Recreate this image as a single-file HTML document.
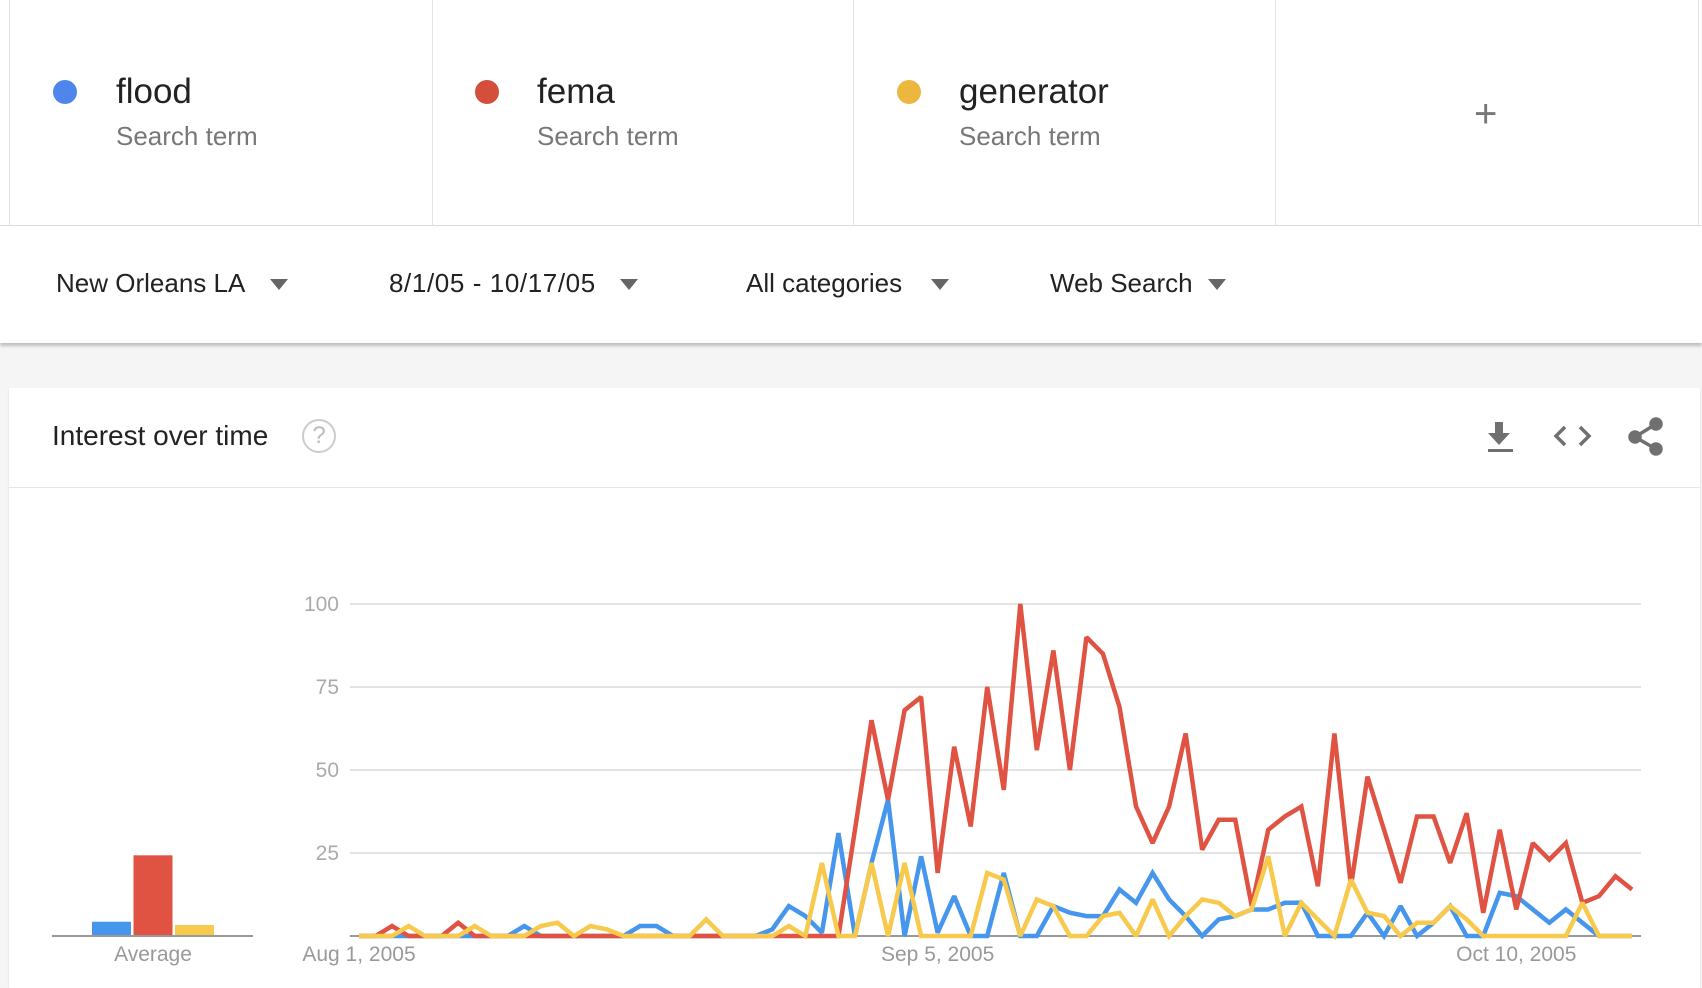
<!DOCTYPE html>
<html><head><meta charset="utf-8">
<style>
*{margin:0;padding:0;box-sizing:border-box}
body{width:1702px;height:974px;overflow:hidden;background:#f5f5f5;font-family:"Liberation Sans",sans-serif;position:relative}
.abs{position:absolute}
.hdr{left:0;top:0;width:1702px;height:226px;background:#fff;border-bottom:1px solid #ddd}
.card{top:0;height:226px;border-left:1px solid #e3e3e3}
.dot{width:24px;height:24px;border-radius:50%}
.term{font-size:35px;color:#222}
.sub{font-size:26px;color:#777}
.filters{left:0;top:226px;width:1702px;height:117px;background:#fff;box-shadow:0 3px 3px rgba(0,0,0,0.22)}
.flt{font-size:26px;color:#222;top:268px}
.arr{top:279px;width:0;height:0;border-left:9px solid transparent;border-right:9px solid transparent;border-top:11px solid #666}
.panel{left:9px;top:388px;width:1691px;height:600px;background:#fff;box-shadow:0 1px 2px rgba(0,0,0,0.1)}
</style></head><body>
<div class="abs hdr"></div>
<div class="abs card" style="left:9px;width:423px"></div>
<div class="abs card" style="left:432px;width:421px"></div>
<div class="abs card" style="left:853px;width:422px"></div>
<div class="abs card" style="left:1275px;width:424px;border-right:1px solid #e3e3e3"></div>

<div class="abs dot" style="left:53px;top:80px;background:#4f86ec"></div>
<div class="abs term" style="left:116px;top:72px">flood</div>
<div class="abs sub" style="left:116px;top:121px">Search term</div>
<div class="abs dot" style="left:475px;top:80px;background:#d34f3c"></div>
<div class="abs term" style="left:537px;top:72px">fema</div>
<div class="abs sub" style="left:537px;top:121px">Search term</div>
<div class="abs dot" style="left:897px;top:80px;background:#ebb73e"></div>
<div class="abs term" style="left:959px;top:72px">generator</div>
<div class="abs sub" style="left:959px;top:121px">Search term</div>
<div class="abs" style="left:1474px;top:92px;font-size:40px;color:#777;font-weight:300">+</div>

<div class="abs filters"></div>
<div class="abs flt" style="left:56px">New Orleans LA</div>
<div class="abs arr" style="left:270px"></div>
<div class="abs flt" style="left:389px;letter-spacing:0.6px">8/1/05 - 10/17/05</div>
<div class="abs arr" style="left:620px"></div>
<div class="abs flt" style="left:746px">All categories</div>
<div class="abs arr" style="left:931px"></div>
<div class="abs flt" style="left:1050px">Web Search</div>
<div class="abs arr" style="left:1208px"></div>

<div class="abs panel"></div>
<div class="abs" style="left:52px;top:420px;font-size:28px;color:#222">Interest over time</div>
<div class="abs" style="left:302px;top:419px;width:34px;height:34px;border:2px solid #ccc;border-radius:50%;color:#bbb;font-size:24px;text-align:center;line-height:30px">?</div>
<div class="abs" style="left:9px;top:487px;width:1691px;height:1px;background:#e5e5e5"></div>
<svg class="abs" style="left:1480px;top:415px" width="200" height="45">
 <g fill="#707070"><rect x="15" y="7" width="8" height="12"/><polygon points="8,18 30,18 19,30"/><rect x="8" y="34" width="25" height="3"/></g>
 <g fill="none" stroke="#707070" stroke-width="3.5"><polyline points="85,12 76,21 85,30"/><polyline points="100,12 109,21 100,30"/></g>
 <g fill="#707070" stroke="#707070" stroke-width="3.5"><circle cx="176" cy="9" r="5"/><circle cx="155" cy="22" r="5"/><circle cx="176" cy="34" r="5"/><line x1="176" y1="9" x2="155" y2="22"/><line x1="155" y1="22" x2="176" y2="34"/></g>
</svg>

<svg id="chart" class="abs" style="left:0;top:0" width="1702" height="974"></svg>
<script>
const flood=[0,0,0,0,0,0,0,0,0,0,3,0,0,0,0,0,0,3,3,0,0,0,0,0,0,2,9,6,1,31,0,22,41,0,24,1,12,0,0,19,0,0,9,7,6,6,14,10,19,11,6,0,5,6,8,8,10,10,0,0,0,7,0,9,0,4,9,0,0,13,12,8,4,8,4,0,0,0];
const fema=[0,0,3,0,0,0,4,0,0,0,0,0,0,0,0,0,0,0,0,0,0,0,0,0,0,0,0,0,0,0,32,65,41,68,72,19,57,33,75,44,100,56,86,50,90,85,69,39,28,39,61,26,35,35,9,32,36,39,15,61,15,48,32,16,36,36,22,37,7,32,8,28,23,28,10,12,18,14];
const generator=[0,0,0,3,0,0,0,3,0,0,0,3,4,0,3,2,0,0,0,0,0,5,0,0,0,0,3,0,22,0,0,22,0,22,0,0,0,0,19,17,0,11,9,0,0,6,7,0,11,0,6,11,10,6,8,24,0,10,5,0,17,7,6,0,4,4,9,5,0,0,0,0,0,0,10,0,0,0];
const averages=[4,24,3];
const yTicks=[25,50,75,100];
const xTickIdx=[0,35,70];
const xTickLabels=["Aug 1, 2005","Sep 5, 2005","Oct 10, 2005"];
const avgLabel="Average";

const svg=document.getElementById('chart');
const NS='http://www.w3.org/2000/svg';
const X0=359,X1=1632,Y0=936,Y100=604;
const xs=i=>X0+(X1-X0)*i/(fema.length-1);
const ys=v=>Y0-(Y0-Y100)*v/100;
function mk(tag,attrs){const e=document.createElementNS(NS,tag);for(const k in attrs)e.setAttribute(k,attrs[k]);svg.appendChild(e);return e;}

yTicks.forEach((t,k)=>{
 const g=mk('line',{x1:350,x2:1641,y1:ys(t),y2:ys(t),stroke:'#e3e3e3','stroke-width':2});
 
 
 const l=mk('text',{x:339,y:ys(t)+7,'text-anchor':'end','font-size':21,fill:'#aaa','font-family':'Liberation Sans, sans-serif'});
 l.textContent=t;
 
 
});
const base=mk('line',{x1:350,x2:1641,y1:Y0,y2:Y0,stroke:'#999','stroke-width':2});


xTickIdx.forEach((idx,k)=>{
 const l=mk('text',{x:xs(idx),y:961,'text-anchor':'middle','font-size':21,fill:'#999','font-family':'Liberation Sans, sans-serif'});
 l.textContent=xTickLabels[k];
 
 
});
const series=[['flood',flood,'#4596ec'],['fema',fema,'#e05343'],['generator',generator,'#f7c94c']];
series.forEach(([n,d,c])=>{
 const p=mk('polyline',{points:d.map((v,i)=>xs(i)+','+ys(v)).join(' '),fill:'none',stroke:c,'stroke-width':4.5,'stroke-linejoin':'miter','stroke-miterlimit':2});
 
 
});
const ab=mk('line',{x1:52,x2:253,y1:Y0,y2:Y0,stroke:'#999','stroke-width':2});


averages.forEach((v,k)=>{
 const h=ys(0)-ys(v);
 const r=mk('rect',{x:92+k*41.5,y:Y0-1-h,width:39,height:h,fill:series[k][2]});
 
 
});
const al=mk('text',{x:153,y:961,'text-anchor':'middle','font-size':21,fill:'#999','font-family':'Liberation Sans, sans-serif'});
al.textContent=avgLabel;


</script>
</body></html>
